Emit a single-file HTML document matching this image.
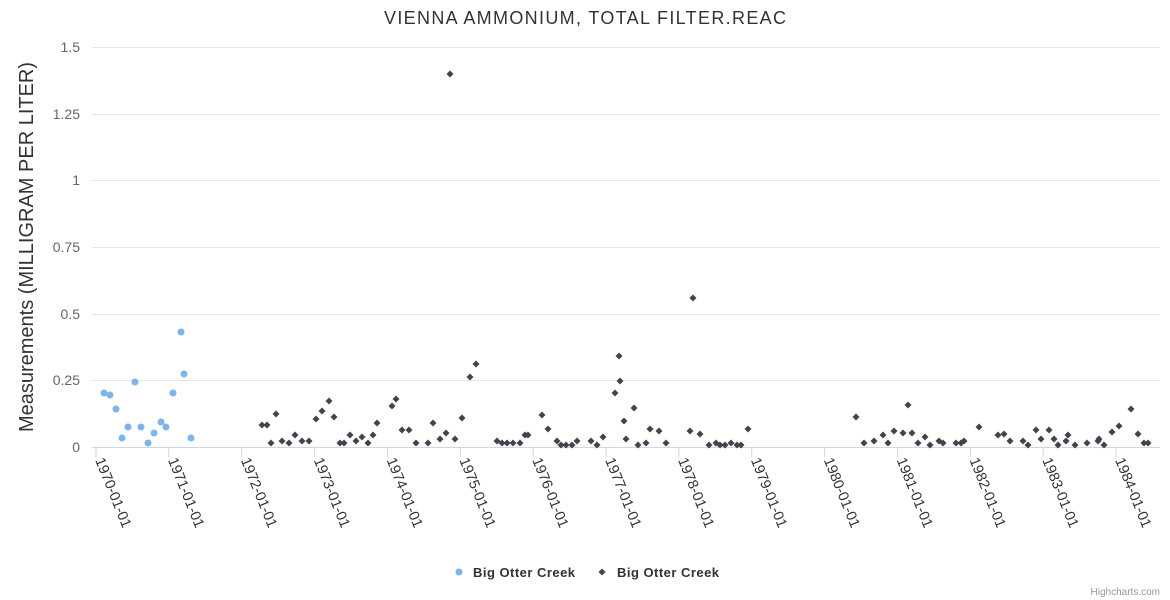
<!DOCTYPE html>
<html><head><meta charset="utf-8"><style>
html,body{margin:0;padding:0;background:#fff;}
svg{display:block;font-family:"Liberation Sans",sans-serif;}
</style></head><body>
<svg id="s" width="1170" height="600" xmlns="http://www.w3.org/2000/svg">
<text x="585" y="24" text-anchor="middle" font-size="18" fill="#333" textLength="402">VIENNA AMMONIUM, TOTAL FILTER.REAC</text>
<g stroke="#e6e6e6" stroke-width="1">
<line x1="92" x2="1160" y1="47.5" y2="47.5"/><line x1="92" x2="1160" y1="114.5" y2="114.5"/>
<line x1="92" x2="1160" y1="180.5" y2="180.5"/><line x1="92" x2="1160" y1="247.5" y2="247.5"/>
<line x1="92" x2="1160" y1="314.5" y2="314.5"/><line x1="92" x2="1160" y1="380.5" y2="380.5"/>
</g>
<line x1="92" x2="1160" y1="447.5" y2="447.5" stroke="#ccd6eb"/>
<g font-size="14" fill="#666" text-anchor="end">
<text x="80" y="52">1.5</text><text x="80" y="119">1.25</text><text x="80" y="185">1</text>
<text x="80" y="252">0.75</text><text x="80" y="319">0.5</text><text x="80" y="385">0.25</text><text x="80" y="452">0</text>
</g>
<text transform="translate(33,247) rotate(-90)" text-anchor="middle" font-size="20" fill="#333">Measurements (MILLIGRAM PER LITER)</text>
<g id="xa"></g>
<g id="pts"></g>
<circle cx="459" cy="572" r="3.5" fill="#7cb5ec"/>
<text x="473" y="577" font-size="13" font-weight="bold" fill="#333" textLength="102">Big Otter Creek</text>
<path d="M602 568.5 L605.5 572 L602 575.5 L598.5 572Z" fill="#434348"/>
<text x="617" y="577" font-size="13" font-weight="bold" fill="#333" textLength="102">Big Otter Creek</text>
<text x="1160" y="595" text-anchor="end" font-size="10" fill="#999">Highcharts.com</text>
</svg>
<script>
var ns="http://www.w3.org/2000/svg",xa=document.getElementById('xa'),pts=document.getElementById('pts');
for(var i=0;i<=14;i++){var x=96+i*72.86;
var l=document.createElementNS(ns,'line');l.setAttribute('x1',x);l.setAttribute('x2',x);l.setAttribute('y1',447);l.setAttribute('y2',457);l.setAttribute('stroke','#ccd6eb');xa.appendChild(l);
var t=document.createElementNS(ns,'text');t.setAttribute('transform','translate('+(x-1)+',460) rotate(68)');t.setAttribute('font-size','14.5');t.setAttribute('fill','#333');t.textContent=(1970+i)+'-01-01';xa.appendChild(t);}
var blue=[[104,393],[110,395],[116,409],[122,438],[128,427],[135,382],[141,427],[148,443],[154,433],[161,422],[166,427],[173,393],[181,332],[184,374],[191,438]];
var dark=[[262,425],[267,425],[271,443],[276,414],[282,441],[289,443],[295,435],[302,441],[309,441],[316,419],[322,411],[329,401],[334,417],[340,443],[344,443],[350,435],[356,441],[362,437],[368,443],[373,435],[377,423],[392,406],[396,399],[402,430],[409,430],[416,443],[428,443],[433,423],[440,439],[446,433],[450,74],[455,439],[462,418],[470,377],[476,364],[497,441],[502,443],[507,443],[513,443],[520,443],[525,435],[528,435],[542,415],[548,429],[557,441],[561,445],[566,445],[572,445],[577,441],[591,441],[597,445],[603,437],[615,393],[619,356],[620,381],[624,421],[626,439],[634,408],[638,445],[646,443],[650,429],[659,431],[666,443],[690,431],[693,298],[700,434],[709,445],[716,443],[720,445],[725,445],[731,443],[737,445],[741,445],[748,429],[856,417],[864,443],[874,441],[883,435],[888,443],[894,431],[903,433],[908,405],[912,433],[918,443],[925,437],[930,445],[939,441],[943,443],[956,443],[961,443],[964,441],[979,427],[998,435],[1004,434],[1010,441],[1023,441],[1028,445],[1036,430],[1041,439],[1049,430],[1054,439],[1058,445],[1066,441],[1068,435],[1075,445],[1087,443],[1098,441],[1099,439],[1104,445],[1112,432],[1119,426],[1131,409],[1138,434],[1144,443],[1148,443]];
blue.forEach(function(p){var c=document.createElementNS(ns,'circle');c.setAttribute('cx',p[0]);c.setAttribute('cy',p[1]);c.setAttribute('r',3.5);c.setAttribute('fill','#7cb5ec');pts.appendChild(c);});
dark.forEach(function(p){var c=document.createElementNS(ns,'path');var x=p[0],y=p[1];c.setAttribute('d','M'+x+' '+(y-3.5)+' L'+(x+3.5)+' '+y+' L'+x+' '+(y+3.5)+' L'+(x-3.5)+' '+y+'Z');c.setAttribute('fill','#434348');pts.appendChild(c);});
</script>
</body></html>
